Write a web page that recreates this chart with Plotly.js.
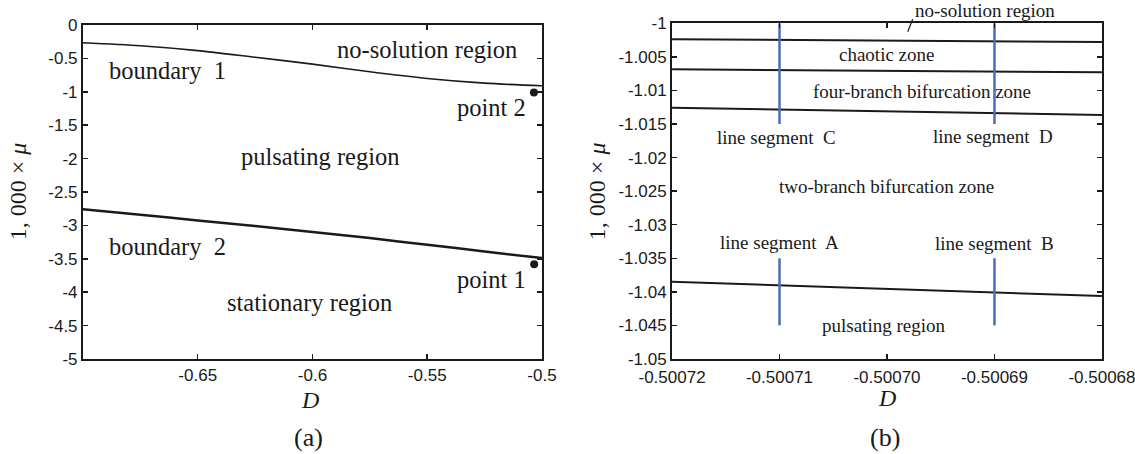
<!DOCTYPE html>
<html>
<head>
<meta charset="utf-8">
<script src="https://cdn.plot.ly/plotly-3.0.1.min.js"></script>
<style>
  html, body { margin: 0; padding: 0; background: #fff; }
  #chart { width: 1135px; height: 454px; }
</style>
</head>
<body>
<div id="chart"></div>
<script>
// ---- panel (a): stability boundaries over the full D range ----
const dA = [-0.70, -0.675, -0.65, -0.625, -0.60, -0.575, -0.55, -0.525, -0.50];
const boundary1 = [-0.265, -0.31, -0.383, -0.483, -0.585, -0.700, -0.800, -0.870, -0.91];
const boundary2 = [-2.76, -2.84, -2.925, -3.01, -3.10, -3.19, -3.29, -3.39, -3.49];
const point1 = { D: -0.5034, mu: -3.58 };
const point2 = { D: -0.5035, mu: -1.01 };

const xTicksA = [-0.65, -0.6, -0.55, -0.5];
const xTickTextA = ['-0.65', '-0.6', '-0.55', '-0.5'];
const yTicksA = [0, -0.5, -1, -1.5, -2, -2.5, -3, -3.5, -4, -4.5, -5];
const yTickTextA = ['0', '-0.5', '-1', '-1.5', '-2', '-2.5', '-3', '-3.5', '-4', '-4.5', '-5'];

// ---- panel (b): enlarged view near D = -0.5007 ----
const dB = [-0.50072, -0.50068];
const chaoticTop = [-1.00238, -1.0028];
const chaoticBottom = [-1.00685, -1.0073];
const fourBranchBottom = [-1.01257, -1.01366];
const twoBranchBottom = [-1.03848, -1.04062];

const segmentD = [-0.50071, -0.50069];          // C/A and D/B abscissae
const segmentUpper = [-1.0, -1.015];            // line segments C, D
const segmentLower = [-1.035, -1.045];          // line segments A, B

const xTicksB = [-0.50072, -0.50071, -0.50070, -0.50069, -0.50068];
const xTickTextB = ['-0.50072', '-0.50071', '-0.50070', '-0.50069', '-0.50068'];
const yTicksB = [-1, -1.005, -1.01, -1.015, -1.02, -1.025, -1.03, -1.035, -1.04, -1.045, -1.05];
const yTickTextB = ['-1', '-1.005', '-1.01', '-1.015', '-1.02', '-1.025', '-1.03', '-1.035', '-1.04', '-1.045', '-1.05'];

const SERIF = 'Liberation Serif, Times New Roman, serif';
const SANS = 'Liberation Sans, Arial, sans-serif';
const INK = '#1a1a1a';
const BLUE = '#4a6eb4';

const traces = [
  { x: dA, y: boundary1, xaxis: 'x', yaxis: 'y', mode: 'lines',
    line: { color: INK, width: 1.6, shape: 'spline', smoothing: 0.8 } },
  { x: dA, y: boundary2, xaxis: 'x', yaxis: 'y', mode: 'lines',
    line: { color: INK, width: 2.5, shape: 'spline', smoothing: 0.8 } },
  { x: [point1.D, point2.D], y: [point1.mu, point2.mu], xaxis: 'x', yaxis: 'y',
    mode: 'markers', marker: { color: INK, size: 8 }, cliponaxis: false },

  { x: dB, y: chaoticTop, xaxis: 'x2', yaxis: 'y2', mode: 'lines', line: { color: INK, width: 2 } },
  { x: dB, y: chaoticBottom, xaxis: 'x2', yaxis: 'y2', mode: 'lines', line: { color: INK, width: 2 } },
  { x: dB, y: fourBranchBottom, xaxis: 'x2', yaxis: 'y2', mode: 'lines', line: { color: INK, width: 2 } },
  { x: dB, y: twoBranchBottom, xaxis: 'x2', yaxis: 'y2', mode: 'lines', line: { color: INK, width: 2 } }
];

// vertical blue segments A, B, C, D
segmentD.forEach(function (d) {
  [segmentUpper, segmentLower].forEach(function (seg) {
    traces.push({ x: [d, d], y: seg, xaxis: 'x2', yaxis: 'y2', mode: 'lines',
      line: { color: BLUE, width: 2.5 } });
  });
});

function axisStyle(extra) {
  return Object.assign({
    showline: true, linecolor: INK, linewidth: 2, mirror: 'ticks',
    ticks: 'inside', ticklen: 5, tickwidth: 1.5, tickcolor: INK,
    showgrid: false, zeroline: false, fixedrange: true,
    tickfont: { family: SANS, size: 17, color: INK },
    tickmode: 'array', ticklabeloverflow: 'allow'
  }, extra);
}

function label(text, x, y, size, ref, anchor) {
  return { text: text, x: x, y: y, xref: 'x' + ref, yref: 'y' + ref,
    showarrow: false, xanchor: anchor || 'center', yanchor: 'middle',
    font: { family: SERIF, size: size, color: INK } };
}
function paperLabel(text, x, y, size, angle) {
  return { text: text, x: x, y: y, xref: 'paper', yref: 'paper',
    showarrow: false, xanchor: 'center', yanchor: 'middle', textangle: angle || 0,
    font: { family: SERIF, size: size, color: INK } };
}

const FA = 24.5, FB = 19;
const annotations = [
  label('no-solution region', -0.5502, -0.374, FA, ''),
  label('boundary  1', -0.6895, -0.674, FA, '', 'left'),
  label('point 2', -0.5061, -1.228, FA, '', 'right'),
  label('pulsating region', -0.5967, -1.976, FA, ''),
  label('boundary  2', -0.6895, -3.323, FA, '', 'left'),
  label('point 1', -0.5061, -3.817, FA, '', 'right'),
  label('stationary region', -0.6011, -4.147, FA, ''),

  // sits above the frame, so its height is given on the page
  { text: 'no-solution region', x: -0.50069088, y: 0.9764, xref: 'x2', yref: 'paper',
    showarrow: false, xanchor: 'center', yanchor: 'middle',
    font: { family: SERIF, size: FB, color: INK } },
  label('chaotic zone', -0.50070009, -1.00472, FB, '2'),
  label('four-branch bifurcation zone', -0.50069674, -1.01019, FB, '2'),
  label('line segment  C', -0.50071028, -1.01704, FB, '2'),
  label('line segment  D', -0.50069014, -1.01689, FB, '2'),
  label('two-branch bifurcation zone', -0.50070009, -1.02434, FB, '2'),
  label('line segment  A', -0.50071, -1.03268, FB, '2'),
  label('line segment  B', -0.50069, -1.03277, FB, '2'),
  label('pulsating region', -0.50070033, -1.04494, FB, '2'),

  paperLabel('1, 000 × <i>μ</i>', 0.0159, 0.579, 24, -90),
  paperLabel('1, 000 × <i>μ</i>', 0.526, 0.579, 24, -90),
  paperLabel('<i>D</i>', 0.2731, 0.1189, 24),
  paperLabel('<i>D</i>', 0.7812, 0.1233, 24),
  paperLabel('(a)', 0.2714, 0.0374, 26),
  paperLabel('(b)', 0.7797, 0.0374, 26)
];

const layout = {
  width: 1135, height: 454,
  margin: { l: 0, r: 0, t: 0, b: 0 },
  paper_bgcolor: '#fff', plot_bgcolor: '#fff',
  showlegend: false,
  xaxis: axisStyle({ domain: [0.0731, 0.4775], range: [-0.7, -0.5],
    tickvals: xTicksA, ticktext: xTickTextA, anchor: 'y' }),
  yaxis: axisStyle({ domain: [0.2093, 0.9449], range: [-5, 0],
    tickvals: yTicksA, ticktext: yTickTextA, anchor: 'x' }),
  xaxis2: axisStyle({ domain: [0.5921, 0.9709], range: [-0.50072, -0.50068],
    tickvals: xTicksB, ticktext: xTickTextB, anchor: 'y2', ticklabelstandoff: 2 }),
  yaxis2: axisStyle({ domain: [0.2093, 0.9487], range: [-1.05, -1.0],
    tickvals: yTicksB, ticktext: yTickTextB, anchor: 'x2' }),
  annotations: annotations,
  shapes: [
    // leader from the no-solution label down across the top edge into the thin band
    { type: 'line', xref: 'x2', yref: 'paper',
      x0: -0.50069761, y0: 0.9575, x1: -0.50069807, y1: 0.9302,
      line: { color: INK, width: 1.2 } }
  ]
};

Plotly.newPlot('chart', traces, layout, { displayModeBar: false, staticPlot: true });
</script>
</body>
</html>
